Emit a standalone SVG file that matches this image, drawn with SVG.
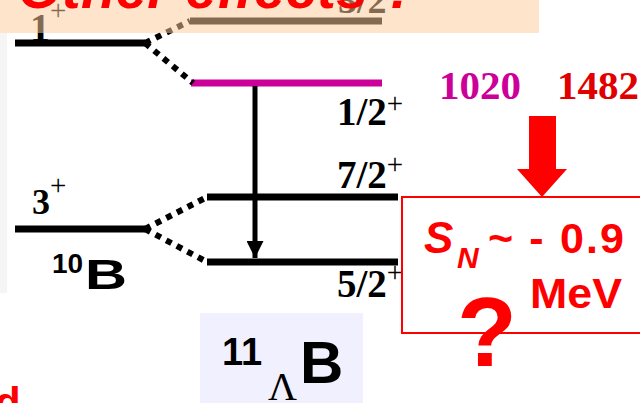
<svg xmlns="http://www.w3.org/2000/svg" width="640" height="403" viewBox="0 0 640 403">
<defs>
<style>
.lvl{stroke:#000;stroke-width:7;fill:none}
.dot{stroke:#000;stroke-width:6;stroke-dasharray:6 6;fill:none}
.jp{font-family:"Liberation Serif","Times New Roman",serif;font-weight:bold;fill:#000}
.sup{font-size:29px;font-weight:normal}
.sans{font-family:"Liberation Sans",Arial,sans-serif;font-weight:bold}
.red{fill:#FF0000}
</style>
<marker id="ah" viewBox="0 0 10 10" refX="10" refY="5" markerWidth="3.6" markerHeight="3.4" orient="auto" markerUnits="strokeWidth">
<path d="M0,0 L10,5 L0,10 Z" fill="#000"/>
</marker>
</defs>
<rect x="0" y="0" width="640" height="403" fill="#fff"/>
<rect x="0" y="33" width="7" height="260" fill="#f5f5f5"/>

<g id="level-10B-1plus">
<line class="lvl" x1="15" y1="43" x2="145" y2="43"/>
<text class="jp" x="30" y="41" font-size="40" font-weight="normal">1<tspan class="sup" dy="-21">+</tspan></text>
</g>
<g id="level-10B-3plus">
<line class="lvl" x1="15" y1="229" x2="145" y2="229"/>
<text class="jp" x="32" y="214" font-size="36">3<tspan class="sup" dy="-19">+</tspan></text>
</g>
<g id="label-10B">
<text class="sans" x="52" y="273" font-size="28">10<tspan x="85" y="289" font-size="42" textLength="42" lengthAdjust="spacingAndGlyphs">B</tspan></text>
</g>
<g id="level-3half">
<line class="lvl" x1="190" y1="21" x2="382" y2="21"/>
<text class="jp" x="338" y="13" font-size="38">3/2</text>
</g>
<g id="level-1half">
<line x1="191" y1="83" x2="382" y2="83" stroke="#CC0099" stroke-width="7"/>
<text class="jp" x="337" y="125" font-size="39">1/2<tspan class="sup" dy="-12">+</tspan></text>
</g>
<g id="level-7half">
<line class="lvl" x1="207" y1="197" x2="398" y2="197"/>
<text class="jp" x="337" y="188" font-size="39">7/2<tspan class="sup" dy="-14">+</tspan></text>
</g>
<g id="level-5half">
<line class="lvl" x1="207" y1="262" x2="398" y2="262"/>
<text class="jp" x="337" y="297" font-size="39">5/2<tspan class="sup" dy="-15">+</tspan></text>
</g>

<g id="connectors">
<line class="dot" x1="145" y1="43" x2="190" y2="21"/>
<line class="dot" x1="145" y1="43" x2="193" y2="83"/>
<line class="dot" x1="145" y1="229" x2="207" y2="197"/>
<line class="dot" x1="145" y1="229" x2="207" y2="262"/>
<line x1="255" y1="86" x2="255" y2="258" stroke="#000" stroke-width="5" marker-end="url(#ah)"/>
</g>

<rect id="title-band" x="0" y="0" width="539" height="33" fill="#FECC9A" fill-opacity="0.52"/>
<text class="sans red" x="18" y="8" font-size="56" font-style="italic" textLength="400" lengthAdjust="spacing">Other effects ?</text>

<g id="energies">
<text class="jp" x="439" y="99" font-size="41" style="fill:#CC0099">1020</text>
<text class="jp" x="557" y="99" font-size="41" style="fill:#E00000">1482</text>
</g>
<g id="red-arrow">
<polygon points="529,116 556,116 556,169 567,169 542,197 517,169 529,169" fill="#FF0000"/>
</g>
<g id="sn-box">
<rect x="402" y="197" width="260" height="136" fill="none" stroke="#FF0000" stroke-width="2"/>
<text class="sans red" x="424" y="253" font-size="44" font-style="italic">S<tspan x="457" y="268" font-size="30">N</tspan></text>
<text class="sans red" x="488" y="253" font-size="43" textLength="136" lengthAdjust="spacing">~ - 0.9</text>
<text class="sans red" x="530" y="308" font-size="43" textLength="92" lengthAdjust="spacingAndGlyphs">MeV</text>
<text class="sans red" x="487" y="366" font-size="98" text-anchor="middle">?</text>
</g>

<g id="label-11LB">
<rect x="200" y="313" width="163" height="90" fill="#F0F0FF"/>
<text class="sans" x="222" y="365" font-size="38">11<tspan x="268" y="400" font-family="Liberation Serif,serif" font-weight="normal" font-size="40">Λ</tspan><tspan x="300" y="383" font-size="60">B</tspan></text>
</g>
<text class="sans red" x="-5" y="417" font-size="42">d</text>
</svg>
